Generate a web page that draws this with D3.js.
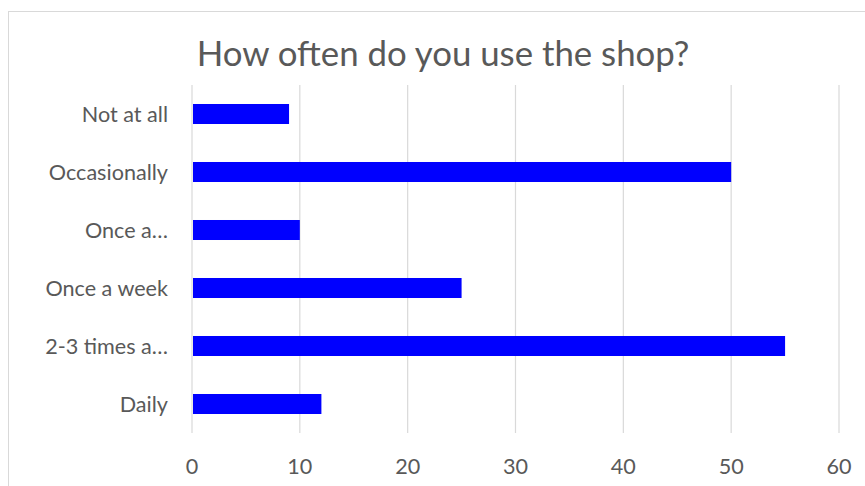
<!DOCTYPE html>
<html>
<head>
<meta charset="utf-8">
<script src="https://cdn.jsdelivr.net/npm/d3@7"></script>
<style>
  html, body { margin: 0; padding: 0; background: #fff; }
  svg { display: block; }
  text { font-family: Lato, "Open Sans", sans-serif; fill: #595959; }
</style>
</head>
<body>
<svg id="chart" width="865" height="486"></svg>
<script>
// Survey answers, top to bottom as shown on the chart
const categories = ["Not at all", "Occasionally", "Once a…", "Once a week", "2-3 times a…", "Daily"];
const counts = [9, 50, 10, 25, 55, 12];
const xTicks = [0, 10, 20, 30, 40, 50, 60];
const title = "How often do you use the shop?";

const svg = d3.select("#chart");
const W = 865, H = 486;
const margin = { left: 192, right: 26, top: 85, bottom: 53 };

// Chart frame (open on the right and bottom edges of the page)
svg.append("rect")
  .attr("x", 8.5).attr("y", 11.5)
  .attr("width", W + 10).attr("height", H + 10)
  .attr("fill", "#fff").attr("stroke", "#d9d9d9").attr("stroke-width", 1);

const x = d3.scaleLinear().domain([0, 60]).range([margin.left, 839]);
const y = d3.scaleBand().domain(categories)
  .range([margin.top, H - margin.bottom])
  .paddingInner(0.655).paddingOuter(0.3275);

// Vertical gridlines
svg.append("g").selectAll("line").data(xTicks).join("line")
  .attr("x1", d => x(d)).attr("x2", d => x(d))
  .attr("y1", margin.top).attr("y2", H - margin.bottom)
  .attr("stroke", "#d9d9d9").attr("stroke-width", 1.2);

// Bars
svg.append("g").selectAll("rect").data(categories).join("rect")
  .attr("x", x(0) + 1)
  .attr("y", d => y(d))
  .attr("width", (d, i) => x(counts[i]) - x(0) - 1)
  .attr("height", y.bandwidth())
  .attr("fill", "#0000ff");

// Category labels
svg.append("g").selectAll("text").data(categories).join("text")
  .attr("x", 168)
  .attr("y", d => y(d) + y.bandwidth() / 2)
  .attr("dy", "0.35em")
  .attr("text-anchor", "end")
  .style("font-size", "21.6px")
  .text(d => d);

// Value axis labels
svg.append("g").selectAll("text").data(xTicks).join("text")
  .attr("x", d => x(d))
  .attr("y", 466)
  .attr("dy", "0.35em")
  .attr("text-anchor", "middle")
  .style("font-size", "21.6px")
  .text(d => d);

// Title
svg.append("text")
  .attr("x", 443).attr("y", 66)
  .attr("text-anchor", "middle")
  .style("font-size", "34.8px")
  .text(title);
</script>
</body>
</html>
